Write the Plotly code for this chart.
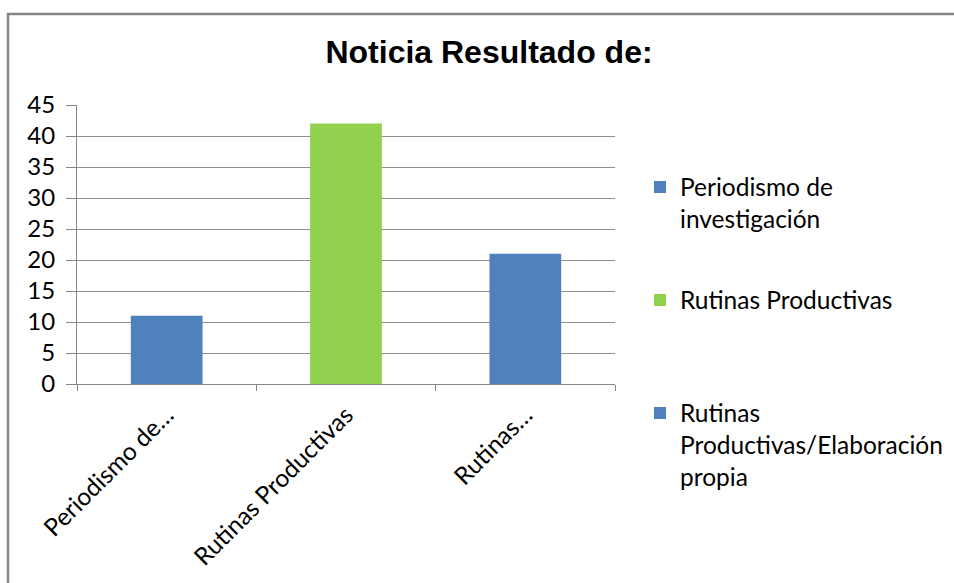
import plotly.graph_objects as go

categories = ["Periodismo de investigación", "Rutinas Productivas", "Rutinas Productivas/Elaboración propia"]
tick_labels = ["Periodismo de…", "Rutinas Productivas", "Rutinas…"]
legend_names = ["Periodismo de<br>investigación", "Rutinas Productivas", "Rutinas<br>Productivas/Elaboración<br>propia"]
values = [11, 42, 21]
colors = ["#4F81BD", "#92D050", "#4F81BD"]
legend_ids = ["legend2", "legend3", "legend4"]

W, H = 954, 583
L, R, T, B = 77, 339, 105, 199
pw, ph = W - L - R, H - T - B

def px(x):
    return (x - L) / pw

def py(y):
    return (H - B - y) / ph

FONT = "Lato"
fig = go.Figure()
for cat, name, v, c, lg in zip(categories, legend_names, values, colors, legend_ids):
    fig.add_trace(go.Bar(x=[cat], y=[v], name=name, marker_color=c, width=0.4,
                         marker_line_width=0, legend=lg, showlegend=True))

legend_tops = [164.5, 277.5, 390.5]
legend_left = 640
common_leg = dict(xref="container", yref="container", xanchor="left", yanchor="top",
                  valign="top", bgcolor="rgba(0,0,0,0)",
                  font=dict(family=FONT, size=24.5, color="#000000"))
fig.update_layout(
    width=W, height=H,
    margin=dict(l=L, r=R, t=T, b=B, autoexpand=False),
    paper_bgcolor="white", plot_bgcolor="white",
    barmode="overlay",
    title=dict(text="<b>Noticia Resultado de:</b>", x=489 / W, xref="container", xanchor="center",
               y=1 - 52 / H, yref="container", yanchor="middle",
               font=dict(family="Liberation Sans", size=32, color="#000000")),
    legend2=dict(x=legend_left / W, y=1 - legend_tops[0] / H, **common_leg),
    legend3=dict(x=legend_left / W, y=1 - legend_tops[1] / H, **common_leg),
    legend4=dict(x=legend_left / W, y=1 - legend_tops[2] / H, **common_leg),
    xaxis=dict(type="category", categoryorder="array", categoryarray=categories,
               tickmode="array", tickvals=categories, ticktext=tick_labels,
               tickangle=-45, tickson="boundaries", ticks="outside", ticklen=6,
               ticklabelstandoff=6,
               tickcolor="#868686", showline=True, linecolor="#868686", linewidth=1,
               showgrid=False, tickfont=dict(family=FONT, size=24.5, color="#000000")),
    yaxis=dict(range=[0, 45], dtick=5, tick0=0, ticks="outside", ticklen=10,
               ticklabelstandoff=6,
               tickcolor="#868686", showline=True, linecolor="#868686", linewidth=1,
               showgrid=True, gridcolor="#8f8f8f", gridwidth=1, zeroline=False,
               tickfont=dict(family=FONT, size=24, color="#000000"), fixedrange=True),
    shapes=[dict(type="rect", xref="paper", yref="paper",
                 x0=px(8), x1=px(975), y0=py(620), y1=py(14),
                 line=dict(color="#868686", width=2.5), fillcolor="rgba(0,0,0,0)")],
)

fig.write_html("out.html", config={"displayModeBar": False},
               post_script="document.body.style.margin='0';document.body.style.overflow='hidden';")
